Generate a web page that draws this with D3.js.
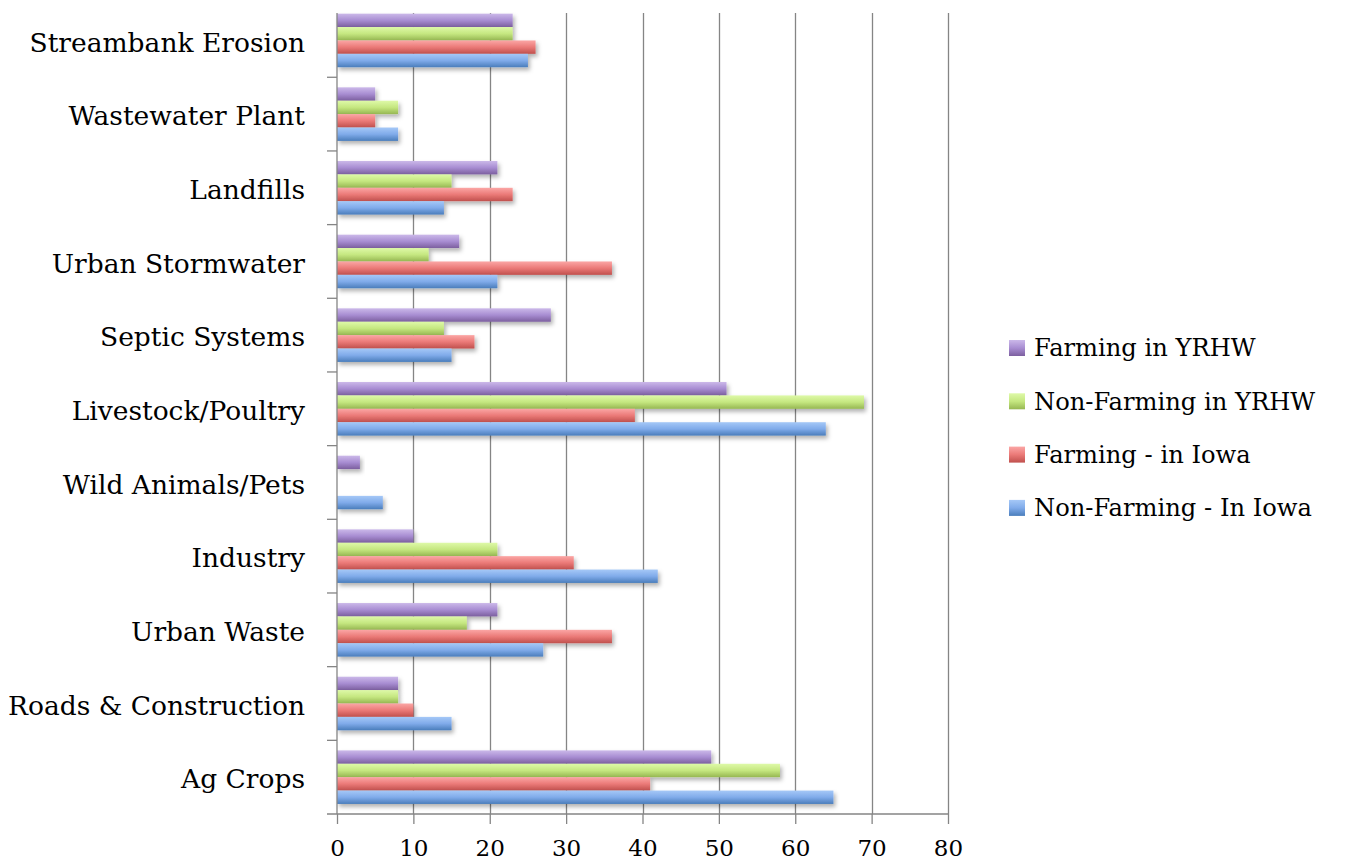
<!DOCTYPE html>
<html>
<head>
<meta charset="utf-8">
<script src="https://cdn.jsdelivr.net/npm/d3@7"></script>
<style>
  html, body { margin: 0; padding: 0; background: #fff; }
  svg { display: block; }
  .cat-axis text { font-family: "DejaVu Serif", serif; font-size: 26.5px; fill: #000; }
  .x-axis text   { font-family: "DejaVu Serif", serif; font-size: 23px; fill: #000; }
  .legend text   { font-family: "DejaVu Serif", serif; font-size: 24.2px; fill: #000; }
</style>
</head>
<body>
<svg id="chart" width="1347" height="861"></svg>
<script>
// ── Data (top-to-bottom order as drawn) ───────────────────────────────────────
const categories = [
  'Streambank Erosion', 'Wastewater Plant', 'Landfills', 'Urban Stormwater',
  'Septic Systems', 'Livestock/Poultry', 'Wild Animals/Pets', 'Industry',
  'Urban Waste', 'Roads & Construction', 'Ag Crops'
];
const seriesNames = [
  'Farming in YRHW', 'Non-Farming in YRHW', 'Farming - in Iowa', 'Non-Farming - In Iowa'
];
const farmingYRHW    = [23, 5, 21, 16, 28, 51, 3, 10, 21, 8, 49];
const nonFarmingYRHW = [23, 8, 15, 12, 14, 69, 0, 21, 17, 8, 58];
const farmingIowa    = [26, 5, 23, 36, 18, 39, 0, 31, 36, 10, 41];
const nonFarmingIowa = [25, 8, 14, 21, 15, 64, 6, 42, 27, 15, 65];
const xTicks = [0, 10, 20, 30, 40, 50, 60, 70, 80];

const seriesValues = [farmingYRHW, nonFarmingYRHW, farmingIowa, nonFarmingIowa];

// ── Styling ──────────────────────────────────────────────────────────────────
const palette = [
  ['#cbb8e9', '#a88dd2', '#7c5f9f'],  // purple
  ['#def9a8', '#c5e780', '#96b752'],  // green
  ['#fba6a5', '#eb7a78', '#c0504d'],  // red
  ['#a5c8f7', '#80abea', '#4a7dbb']   // blue
];
const gridColor = '#858585';

const plot = { left: 337, right: 948, top: 3.6, bottom: 814, gridTop: 13 };

const svg = d3.select('#chart');

// ── Scales ───────────────────────────────────────────────────────────────────
const x = d3.scaleLinear().domain([0, 80]).range([plot.left, plot.right]);
const y0 = d3.scaleBand().domain(categories).range([plot.top, plot.bottom]);
const y1 = d3.scaleBand().domain(seriesNames).range([0, y0.bandwidth()])
  .paddingInner(0).paddingOuter(0.75);

// ── Defs: gradients + shadow ─────────────────────────────────────────────────
const defs = svg.append('defs');
palette.forEach((c, i) => {
  const g = defs.append('linearGradient')
    .attr('id', 'grad' + i)
    .attr('x1', 0).attr('y1', 0).attr('x2', 0).attr('y2', 1);
  g.append('stop').attr('offset', '0%').attr('stop-color', c[0]);
  g.append('stop').attr('offset', '50%').attr('stop-color', c[1]);
  g.append('stop').attr('offset', '100%').attr('stop-color', c[2]);
});
const f = defs.append('filter').attr('id', 'shadow')
  .attr('x', '-10%').attr('y', '-30%').attr('width', '130%').attr('height', '190%');
f.append('feDropShadow')
  .attr('dx', 2).attr('dy', 3).attr('stdDeviation', 2)
  .attr('flood-color', '#000').attr('flood-opacity', 0.3);

// ── Gridlines ────────────────────────────────────────────────────────────────
svg.append('g')
  .selectAll('line')
  .data(xTicks.filter(t => t > 0))
  .join('line')
  .attr('x1', d => Math.round(x(d)) + 0.5)
  .attr('x2', d => Math.round(x(d)) + 0.5)
  .attr('y1', plot.gridTop)
  .attr('y2', plot.bottom)
  .attr('stroke', gridColor)
  .attr('stroke-width', 1.3);

// ── Bars ─────────────────────────────────────────────────────────────────────
const rows = categories.map((c, ci) => ({
  cat: c,
  vals: seriesNames.map((s, si) => ({ s, si, v: seriesValues[si][ci] }))
}));

svg.append('g')
  .selectAll('g')
  .data(rows)
  .join('g')
  .attr('transform', d => `translate(0,${y0(d.cat)})`)
  .selectAll('rect')
  .data(d => d.vals.filter(v => v.v > 0))
  .join('rect')
  .attr('x', x(0))
  .attr('y', d => y1(d.s))
  .attr('width', d => x(d.v) - x(0))
  .attr('height', y1.bandwidth())
  .attr('fill', d => `url(#grad${d.si})`)
  .attr('filter', 'url(#shadow)');

// ── X axis ───────────────────────────────────────────────────────────────────
const xAxis = svg.append('g')
  .attr('class', 'x-axis')
  .attr('transform', `translate(0,${plot.bottom})`)
  .call(d3.axisBottom(x).tickValues(xTicks).tickSize(10).tickPadding(16));
xAxis.select('.domain').remove();
xAxis.selectAll('.tick line').attr('stroke', gridColor).attr('stroke-width', 1.3);

// bottom axis line (extends left as the last category tick)
svg.append('line')
  .attr('x1', plot.left - 10).attr('x2', plot.right)
  .attr('y1', plot.bottom).attr('y2', plot.bottom)
  .attr('stroke', gridColor).attr('stroke-width', 1.3);

// ── Category axis ────────────────────────────────────────────────────────────
const yAxis = svg.append('g')
  .attr('class', 'cat-axis')
  .attr('transform', `translate(${plot.left},0)`)
  .call(d3.axisLeft(y0).tickSize(0).tickPadding(32));
yAxis.select('.domain').remove();
yAxis.selectAll('text').attr('dy', '0.42em');

svg.append('line')
  .attr('x1', plot.left).attr('x2', plot.left)
  .attr('y1', plot.gridTop).attr('y2', plot.bottom)
  .attr('stroke', gridColor).attr('stroke-width', 1.3);

// ticks between categories
svg.append('g')
  .selectAll('line')
  .data(categories.slice(0, -1))
  .join('line')
  .attr('x1', plot.left - 10).attr('x2', plot.left)
  .attr('y1', d => y0(d) + y0.bandwidth())
  .attr('y2', d => y0(d) + y0.bandwidth())
  .attr('stroke', gridColor).attr('stroke-width', 1.3);

// ── Legend (purple on top) ───────────────────────────────────────────────────
const legend = svg.append('g').attr('class', 'legend')
  .attr('transform', 'translate(1009,348)');
const item = legend.selectAll('g')
  .data(seriesNames)
  .join('g')
  .attr('transform', (d, i) => `translate(0,${i * 53.3})`);
item.append('rect')
  .attr('x', 0).attr('y', -8).attr('width', 16).attr('height', 16)
  .attr('fill', (d, i) => `url(#grad${i})`);
item.append('text')
  .attr('x', 25).attr('y', 0).attr('dy', '0.35em')
  .text(d => d);
</script>
</body>
</html>
